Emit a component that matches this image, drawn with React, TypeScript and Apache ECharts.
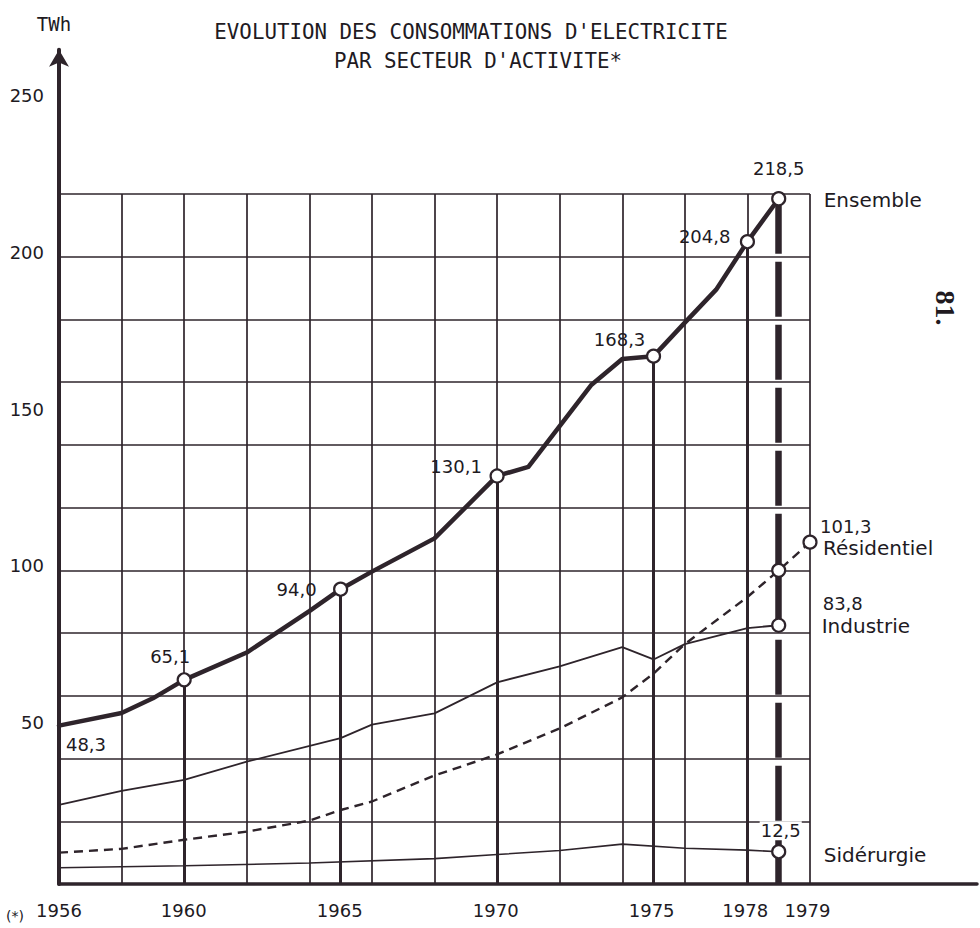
import React, { useEffect, useRef } from 'react';
import * as echarts from 'echarts';

// ---------------- data (TWh) ----------------
const ensembleYears = [1956, 1958, 1959, 1960, 1962, 1964, 1965, 1966, 1968, 1970, 1971, 1973, 1974, 1975, 1976, 1977, 1978, 1979];
const ensembleValues = [50.5, 54.5, 59.2, 65.1, 73.8, 87.0, 94.0, 99.6, 110.2, 130.1, 133.0, 159.0, 167.4, 168.3, 179.0, 189.5, 204.8, 218.5];

const residentielYears = [1956, 1958, 1960, 1962, 1964, 1965, 1966, 1968, 1970, 1972, 1974, 1975, 1976, 1978, 1979, 1980];
const residentielValues = [10.0, 11.2, 14.1, 16.7, 20.2, 23.6, 26.3, 34.6, 41.3, 49.6, 59.5, 67.1, 76.5, 91.5, 100.0, 109.0];

const industrieYears = [1956, 1958, 1960, 1962, 1965, 1966, 1968, 1970, 1972, 1974, 1975, 1976, 1978, 1979];
const industrieValues = [25.2, 29.7, 33.2, 39.0, 46.5, 50.8, 54.4, 64.3, 69.4, 75.5, 71.6, 76.5, 81.6, 82.5];

const siderurgieYears = [1956, 1960, 1964, 1968, 1970, 1972, 1974, 1976, 1978, 1979];
const siderurgieValues = [5.2, 5.8, 6.7, 8.1, 9.4, 10.7, 12.7, 11.4, 10.8, 10.3];

const ensembleCircleYears = [1960, 1965, 1970, 1975, 1978, 1979];
const residentielCircleYears = [1979, 1980];
const industrieCircleYears = [1979];
const siderurgieCircleYears = [1979];

const dropYears = [1960, 1965, 1970, 1975, 1978];
const dashedDropYear = 1979;

const ensembleLabelYears = [1956, 1960, 1965, 1970, 1975, 1978, 1979];
const ensembleLabelTexts = ['48,3', '65,1', '94,0', '130,1', '168,3', '204,8', '218,5'];

const xTickLabels = [1956, 1960, 1965, 1970, 1975, 1978, 1979];
const yTickLabels = [50, 100, 150, 200, 250];

const seriesNames = ['Ensemble', 'Résidentiel', 'Industrie', 'Sidérurgie'];
const endValueTexts = ['101,3', '83,8', '12,5'];

const titleLines = ["EVOLUTION DES CONSOMMATIONS D'ELECTRICITE", "PAR SECTEUR D'ACTIVITE*"];
const unitText = 'TWh';

// ---------------- styles ----------------
const LINE = '#2e242b';
const TEXT = '#211a1f';
const NUM_FONT = 'DejaVu Sans';
const MONO = 'DejaVu Sans Mono';

const valueOf = (years: number[], values: number[], y: number) => values[years.indexOf(y)];

const toData = (years: number[], values: number[], circles: number[]) =>
  years.map((x, i) => ({ value: [x, values[i]], symbolSize: circles.includes(x) ? 13 : 0 }));

export default function App() {
  const ref = useRef<HTMLDivElement>(null);

  useEffect(() => {
    if (!ref.current) return;
    const chart = echarts.init(ref.current, null, { renderer: 'svg' });

    const circleItem = { color: '#ffffff', borderColor: LINE, borderWidth: 2.2 };

    const option: any = {
      animation: false,
      backgroundColor: '#ffffff',
      grid: [
        { left: 59, top: 194, width: 751, height: 690 },
        { left: 59, top: 49.7, width: 921, height: 834.3 },
      ],
      xAxis: [
        {
          type: 'value', gridIndex: 0, min: 1956, max: 1980, interval: 2,
          axisLine: { show: false }, axisTick: { show: false }, axisLabel: { show: false },
          splitLine: { show: true, lineStyle: { color: LINE, width: 1.7 } },
        },
        {
          type: 'value', gridIndex: 1, min: 1956, max: 1985.43, interval: 1,
          axisLine: { show: true, onZero: false, lineStyle: { color: LINE, width: 3.5 } },
          axisTick: { show: false }, splitLine: { show: false },
          axisLabel: {
            show: true, margin: 17, color: TEXT, fontFamily: NUM_FONT, fontSize: 18,
            formatter: (v: number) => {
              const r = Math.round(v);
              if (Math.abs(v - r) > 1e-6 || !xTickLabels.includes(r)) return '';
              if (r === 1979) return '{shift|1979}';
              return String(r);
            },
            rich: { shift: { padding: [0, 0, 0, 62], color: TEXT, fontFamily: NUM_FONT, fontSize: 18 } },
          },
        },
      ],
      yAxis: [
        {
          type: 'value', gridIndex: 0, min: 0, max: 220, interval: 20,
          axisLine: { show: false }, axisTick: { show: false }, axisLabel: { show: false },
          splitLine: { show: true, lineStyle: { color: LINE, width: 1.7 } },
        },
        {
          type: 'value', gridIndex: 1, min: 0, max: 266, interval: 50,
          axisLine: {
            show: true, onZero: false, symbol: ['none', 'arrow'], symbolSize: [15, 17],
            lineStyle: { color: LINE, width: 4 },
          },
          axisTick: { show: false }, splitLine: { show: false },
          axisLabel: {
            show: true, margin: 15, color: TEXT, fontFamily: NUM_FONT, fontSize: 18,
            formatter: (v: number) => (yTickLabels.includes(v) ? '{up|' + v + '}' : ''),
            rich: { up: { padding: [0, 0, 9, 0], color: TEXT, fontFamily: NUM_FONT, fontSize: 18 } },
          },
        },
      ],
      series: [
        {
          name: seriesNames[0], type: 'line', xAxisIndex: 0, yAxisIndex: 0, z: 4, clip: false,
          data: toData(ensembleYears, ensembleValues, ensembleCircleYears),
          symbol: 'circle', showSymbol: true,
          lineStyle: { color: LINE, width: 4.5, join: 'round', cap: 'round' },
          itemStyle: circleItem,
          markLine: {
            z: 1, silent: true, symbol: ['none', 'none'], label: { show: false },
            lineStyle: { color: LINE, width: 3, type: 'solid' },
            data: [
              ...dropYears.map((y) => [
                { coord: [y, valueOf(ensembleYears, ensembleValues, y)] },
                { coord: [y, 0] },
              ]),
              [
                { coord: [dashedDropYear, valueOf(ensembleYears, ensembleValues, dashedDropYear)], lineStyle: { color: LINE, width: 6.5, type: [55, 8] } },
                { coord: [dashedDropYear, 0] },
              ],
            ],
          },
        },
        {
          name: seriesNames[1], type: 'line', xAxisIndex: 0, yAxisIndex: 0, z: 3, clip: false,
          data: toData(residentielYears, residentielValues, residentielCircleYears),
          symbol: 'circle', showSymbol: true,
          lineStyle: { color: LINE, width: 2.4, type: [9, 6] },
          itemStyle: circleItem,
        },
        {
          name: seriesNames[2], type: 'line', xAxisIndex: 0, yAxisIndex: 0, z: 3, clip: false,
          data: toData(industrieYears, industrieValues, industrieCircleYears),
          symbol: 'circle', showSymbol: true,
          lineStyle: { color: LINE, width: 1.8 },
          itemStyle: circleItem,
        },
        {
          name: seriesNames[3], type: 'line', xAxisIndex: 0, yAxisIndex: 0, z: 3, clip: false,
          data: toData(siderurgieYears, siderurgieValues, siderurgieCircleYears),
          symbol: 'circle', showSymbol: true,
          lineStyle: { color: LINE, width: 1.6 },
          itemStyle: circleItem,
        },
      ],
    };

    chart.setOption(option);

    const px = (x: number, y: number) => chart.convertToPixel({ gridIndex: 0 }, [x, y]) as number[];

    const txt = (p: number[], dx: number, dy: number, text: string, align: string, size: number, extra: any = {}) => ({
      type: 'text', x: p[0] + dx, y: p[1] + dy, z: 10, silent: true,
      style: { text, fill: TEXT, fontFamily: NUM_FONT, fontSize: size, align, verticalAlign: 'middle', ...extra },
    });

    const ensOffsets: [number, number, string][] = [
      [27, 19, 'center'], [-14, -23, 'center'], [-44, 0, 'center'], [-41, -9, 'center'],
      [-34, -17, 'center'], [-17, -5, 'right'], [0, -30, 'center'],
    ];

    const graphics: any[] = [];
    ensembleLabelYears.forEach((y, i) => {
      const p = px(y, valueOf(ensembleYears, ensembleValues, y));
      const o = ensOffsets[i];
      graphics.push(txt(p, o[0], o[1], ensembleLabelTexts[i], o[2], 18));
    });

    const ensEnd = px(1979, valueOf(ensembleYears, ensembleValues, 1979));
    graphics.push(txt(ensEnd, 45, 1, seriesNames[0], 'left', 20));

    const resEnd = px(1980, valueOf(residentielYears, residentielValues, 1980));
    graphics.push(txt(resEnd, 10, -16, endValueTexts[0], 'left', 18));
    graphics.push(txt(resEnd, 13, 6, seriesNames[1], 'left', 20));

    const indEnd = px(1979, valueOf(industrieYears, industrieValues, 1979));
    graphics.push(txt(indEnd, 44, -22, endValueTexts[1], 'left', 18));
    graphics.push(txt(indEnd, 43, 1, seriesNames[2], 'left', 20));

    const sidEnd = px(1979, valueOf(siderurgieYears, siderurgieValues, 1979));
    graphics.push(txt(sidEnd, 2, -21, endValueTexts[2], 'center', 18, { backgroundColor: '#ffffff', padding: [1, 1, 0, 1] }));
    graphics.push(txt(sidEnd, 45, 3, seriesNames[3], 'left', 20));

    // title, unit, page furniture
    graphics.push({ type: 'text', x: 471, y: 32, silent: true, style: { text: titleLines[0], fill: TEXT, fontFamily: MONO, fontSize: 20.8, align: 'center', verticalAlign: 'middle' } });
    graphics.push({ type: 'text', x: 478, y: 61, silent: true, style: { text: titleLines[1], fill: TEXT, fontFamily: MONO, fontSize: 20.8, align: 'center', verticalAlign: 'middle' } });
    graphics.push({ type: 'text', x: 54, y: 24, silent: true, style: { text: unitText, fill: TEXT, fontFamily: MONO, fontSize: 19, align: 'center', verticalAlign: 'middle' } });
    graphics.push({ type: 'text', x: 945, y: 308, rotation: -Math.PI / 2, silent: true, style: { text: '81.', fill: TEXT, fontFamily: 'Liberation Serif', fontSize: 28, fontWeight: 'bold', align: 'center', verticalAlign: 'middle' } });
    graphics.push({ type: 'text', x: 6, y: 909, silent: true, style: { text: '(*)', fill: TEXT, fontFamily: NUM_FONT, fontSize: 14, align: 'left', verticalAlign: 'top' } });

    chart.setOption({ graphic: graphics });

    return () => chart.dispose();
  }, []);

  return <div ref={ref} style={{ position: 'absolute', left: 0, top: 0, width: 980, height: 928 }} />;
}
